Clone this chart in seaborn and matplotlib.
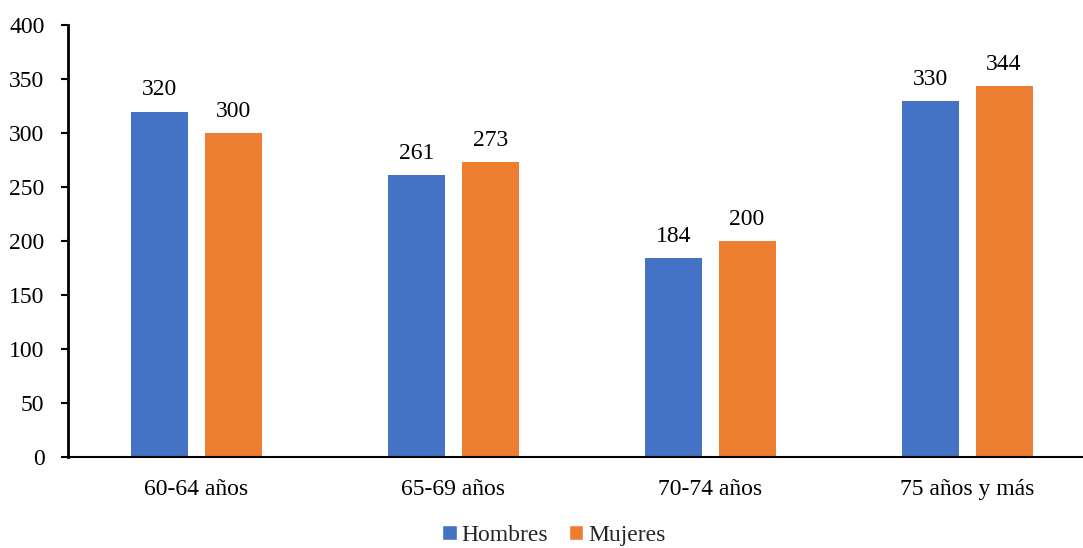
import matplotlib
matplotlib.use("Agg")
import matplotlib.pyplot as plt
import seaborn as sns
import pandas as pd
from matplotlib.patches import Patch

categories = ["60-64 años", "65-69 años", "70-74 años", "75 años y más"]
hombres = [320, 261, 184, 330]
mujeres = [300, 273, 200, 344]
series = ["Hombres", "Mujeres"]
colors = ["#4472C4", "#ED7D31"]

df = pd.DataFrame({
    "cat": categories * 2,
    "val": hombres + mujeres,
    "serie": [series[0]] * 4 + [series[1]] * 4,
})

sns.set_theme(style="white")
plt.rcParams['font.family'] = ['Liberation Serif', 'DejaVu Serif']

fig = plt.figure(figsize=(10.83, 5.48), dpi=100)
ax = fig.add_axes([0.0628, 0.166, 0.949, 0.788])

sns.barplot(data=df, x="cat", y="val", hue="serie", palette=colors,
            width=0.572, gap=0.224, ax=ax, legend=False, saturation=1,
            linewidth=0, edgecolor="none")

for cont in ax.containers:
    ax.bar_label(cont, labels=[f"{int(v)}" for v in cont.datavalues],
                 padding=8, fontsize=17, color="#000000")

ax.set_ylim(0, 400)
ax.set_yticks(range(0, 401, 50))
ax.set_xlim(-0.5, 3.5)
ax.set_xlabel("")
ax.set_ylabel("")
for s in ["top", "right"]:
    ax.spines[s].set_visible(False)
ax.spines["left"].set_color("black")
ax.spines["left"].set_linewidth(2)
ax.spines["bottom"].set_color("black")
ax.spines["bottom"].set_linewidth(1.5)
ax.tick_params(axis="y", which="both", left=True, length=5, width=1.5, color="black",
               labelsize=17, labelcolor="black", pad=12)
ax.tick_params(axis="x", bottom=False, labelsize=17, labelcolor="black", pad=10)

handles = [Patch(facecolor=c, label=s) for c, s in zip(colors, series)]
fig.legend(handles=handles, loc="center", bbox_to_anchor=(0.5115, 0.023), ncol=2,
           frameon=False, fontsize=17, handlelength=0.6, handleheight=0.6,
           handletextpad=0.2, columnspacing=0.9)

fig.savefig("out.png", dpi=100)
